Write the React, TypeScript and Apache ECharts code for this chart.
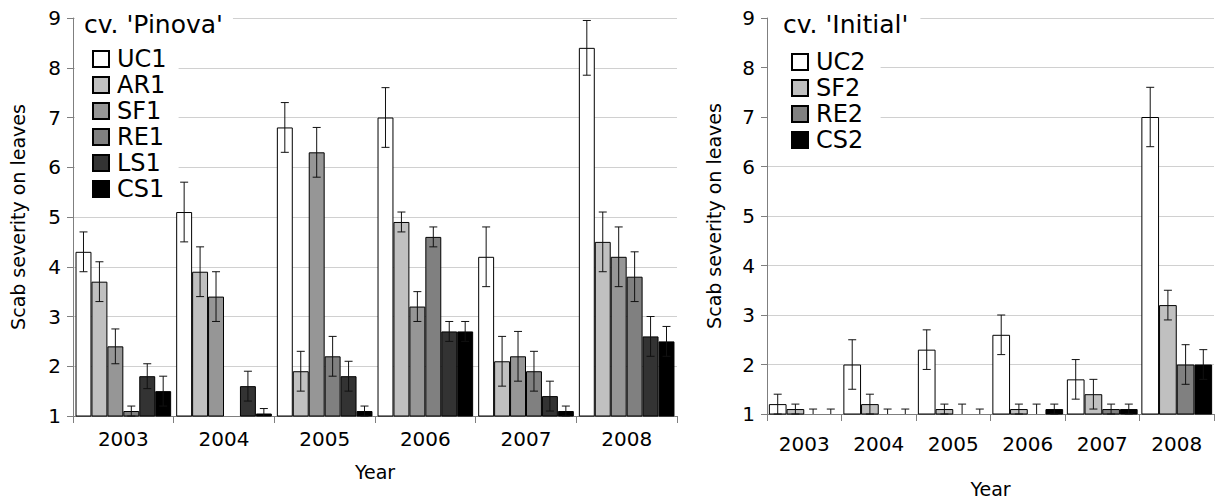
import React, { useEffect, useRef } from "react";
import * as echarts from "echarts";

const years = ["2003", "2004", "2005", "2006", "2007", "2008"];

// Left panel: cv. 'Pinova'
const leftNames = ["UC1", "AR1", "SF1", "RE1", "LS1", "CS1"];
const uc1 = [4.3, 5.1, 6.8, 7.0, 4.2, 8.4];
const uc1Err = [0.4, 0.6, 0.5, 0.6, 0.6, 0.55];
const ar1 = [3.7, 3.9, 1.9, 4.9, 2.1, 4.5];
const ar1Err = [0.4, 0.5, 0.4, 0.2, 0.5, 0.6];
const sf1 = [2.4, 3.4, 6.3, 3.2, 2.2, 4.2];
const sf1Err = [0.35, 0.5, 0.5, 0.3, 0.5, 0.6];
const re1 = [1.1, 1.0, 2.2, 4.6, 1.9, 3.8];
const re1Err = [0.1, 0, 0.4, 0.2, 0.4, 0.5];
const ls1 = [1.8, 1.6, 1.8, 2.7, 1.4, 2.6];
const ls1Err = [0.25, 0.3, 0.3, 0.2, 0.3, 0.4];
const cs1 = [1.5, 1.05, 1.1, 2.7, 1.1, 2.5];
const cs1Err = [0.3, 0.1, 0.1, 0.2, 0.1, 0.3];
const leftColors = ["#ffffff", "#c0c0c0", "#969696", "#808080", "#333333", "#000000"];

// Right panel: cv. 'Initial'
const rightNames = ["UC2", "SF2", "RE2", "CS2"];
const uc2 = [1.2, 2.0, 2.3, 2.6, 1.7, 7.0];
const uc2Err = [0.2, 0.5, 0.4, 0.4, 0.4, 0.6];
const sf2 = [1.1, 1.2, 1.1, 1.1, 1.4, 3.2];
const sf2Err = [0.1, 0.2, 0.1, 0.1, 0.3, 0.3];
const re2 = [1.0, 1.0, 1.0, 1.0, 1.1, 2.0];
const re2Err = [0.1, 0.1, 0.2, 0.2, 0.1, 0.4];
const cs2 = [1.0, 1.0, 1.0, 1.1, 1.1, 2.0];
const cs2Err = [0.1, 0.1, 0.1, 0.1, 0.1, 0.3];
const rightColors = ["#ffffff", "#c0c0c0", "#808080", "#000000"];

const yTicks = { min: 1, max: 9, interval: 1 };
const FONT = "DejaVu Sans";
const CAT_GAP = 0.05;

function makeErrSeries(
  name: string,
  values: number[],
  errs: number[],
  idx: number,
  n: number,
  axisIndex: number
) {
  return {
    type: "custom",
    name: "err-" + name,
    xAxisIndex: axisIndex,
    yAxisIndex: axisIndex,
    z: 5,
    silent: true,
    data: values.map((v, i) => [i, v, errs[i]]),
    renderItem: (params: any, api: any) => {
      const ci = api.value(0);
      const v = api.value(1);
      const e = api.value(2);
      if (!e) return { type: "group", children: [] };
      const catW = api.size([1, 0])[0];
      const total = catW * (1 - CAT_GAP);
      const bw = total / n;
      const center = api.coord([ci, v])[0];
      const x = center - total / 2 + bw * (idx + 0.5);
      const hi = v + e;
      const lo = Math.max(v - e, 1);
      const yTop = api.coord([ci, hi])[1];
      const yBot = api.coord([ci, lo])[1];
      const cap = 4;
      const style = { stroke: "#111", lineWidth: 1 };
      const children: any[] = [
        { type: "line", shape: { x1: x, y1: yTop, x2: x, y2: yBot }, style },
        { type: "line", shape: { x1: x - cap, y1: yTop, x2: x + cap, y2: yTop }, style },
      ];
      if (v - e >= 1 - 1e-9) {
        children.push({ type: "line", shape: { x1: x - cap, y1: yBot, x2: x + cap, y2: yBot }, style });
      }
      return { type: "group", children };
    },
  };
}

export default function App() {
  const ref = useRef<HTMLDivElement>(null);
  useEffect(() => {
    document.body.style.margin = "0";
    const chart = echarts.init(ref.current!, null, { renderer: "svg" });

    const leftData = [uc1, ar1, sf1, re1, ls1, cs1];
    const leftErr = [uc1Err, ar1Err, sf1Err, re1Err, ls1Err, cs1Err];
    const rightData = [uc2, sf2, re2, cs2];
    const rightErr = [uc2Err, sf2Err, re2Err, cs2Err];

    const axisColor = "#7f7f7f";
    const mkX = (gridIndex: number, labelMargin: number, nameGap: number) => ({
      type: "category",
      gridIndex,
      data: years,
      name: "Year",
      nameLocation: "middle",
      nameGap,
      nameTextStyle: { fontFamily: FONT, fontSize: 19, color: "#000" },
      axisLine: { lineStyle: { color: axisColor, width: 1 } },
      axisTick: { show: true, alignWithLabel: false, length: 7, lineStyle: { color: axisColor } },
      axisLabel: { fontFamily: FONT, fontSize: 20, color: "#000", margin: labelMargin },
      splitLine: { show: false },
    });
    const mkY = (gridIndex: number, nameGap: number) => ({
      type: "value",
      gridIndex,
      ...yTicks,
      name: "Scab severity on leaves",
      nameLocation: "middle",
      nameGap,
      nameTextStyle: { fontFamily: FONT, fontSize: 19, color: "#000" },
      axisLine: { show: true, lineStyle: { color: axisColor, width: 1 } },
      axisTick: { show: true, length: 6, lineStyle: { color: axisColor } },
      axisLabel: { fontFamily: FONT, fontSize: 20, color: "#000", margin: 12 },
      splitLine: { show: true, lineStyle: { color: "#d0d0d0", width: 1 } },
    });

    const series: any[] = [];
    leftNames.forEach((nm, i) => {
      series.push({
        type: "bar",
        name: nm,
        xAxisIndex: 0,
        yAxisIndex: 0,
        data: leftData[i],
        barGap: "0%",
        barCategoryGap: "5%",
        itemStyle: { color: leftColors[i], borderColor: "#000", borderWidth: 1 },
      });
    });
    leftNames.forEach((nm, i) => {
      series.push(makeErrSeries(nm, leftData[i], leftErr[i], i, leftNames.length, 0));
    });
    rightNames.forEach((nm, i) => {
      series.push({
        type: "bar",
        name: nm,
        xAxisIndex: 1,
        yAxisIndex: 1,
        data: rightData[i],
        barGap: "0%",
        barCategoryGap: "5%",
        itemStyle: { color: rightColors[i], borderColor: "#000", borderWidth: 1 },
      });
    });
    rightNames.forEach((nm, i) => {
      series.push(makeErrSeries(nm, rightData[i], rightErr[i], i, rightNames.length, 1));
    });

    const legendCommon = {
      orient: "vertical",
      icon: "rect",
      itemWidth: 16,
      itemHeight: 16,
      itemGap: 0,
      backgroundColor: "#fff",
      selectedMode: false,
      textStyle: { fontFamily: FONT, fontSize: 24, color: "#000", lineHeight: 26, padding: [0, 0, 0, 3] },
      z: 10,
    };

    chart.setOption({
      animation: false,
      backgroundColor: "#fff",
      textStyle: { fontFamily: FONT },
      grid: [
        { left: 73, right: 540, top: 18, bottom: 87 },
        { left: 767, right: 3, top: 18, bottom: 84 },
      ],
      title: [
        {
          text: "cv. 'Pinova'",
          left: 75,
          top: 10,
          padding: [2, 10, 2, 9],
          backgroundColor: "#fff",
          textStyle: { fontFamily: FONT, fontSize: 25, fontWeight: "normal", color: "#000" },
          z: 10,
        },
        {
          text: "cv. 'Initial'",
          left: 768,
          top: 10,
          padding: [2, 12, 2, 15],
          backgroundColor: "#fff",
          textStyle: { fontFamily: FONT, fontSize: 25, fontWeight: "normal", color: "#000" },
          z: 10,
        },
      ],
      legend: [
        { ...legendCommon, data: leftNames, left: 75, top: 40, padding: [6, 12, 6, 17] },
        { ...legendCommon, data: rightNames, left: 768, top: 43, padding: [6, 15, 6, 23] },
      ],
      xAxis: [mkX(0, 13, 46), mkX(1, 20, 65)],
      yAxis: [mkY(0, 46), mkY(1, 44)],
      series,
    });
    return () => chart.dispose();
  }, []);
  return <div ref={ref} style={{ width: 1217, height: 503 }} />;
}
